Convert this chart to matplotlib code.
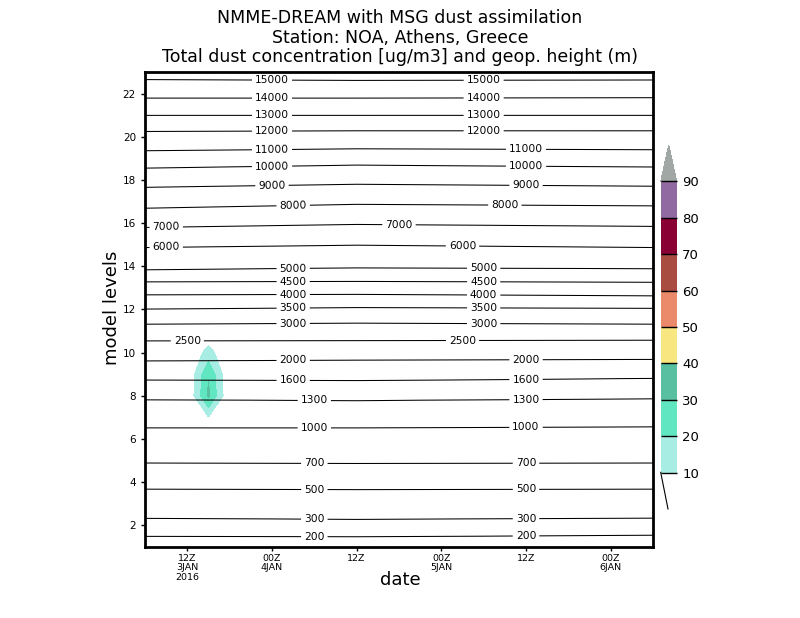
import numpy as np
import matplotlib
matplotlib.use('Agg')
import matplotlib.pyplot as plt
from matplotlib.colors import ListedColormap, BoundaryNorm
from matplotlib.lines import Line2D
import matplotlib.cm as cm

# geopotential height isolines (m) and the model level where each one sits,
# read at three times (hours after 06Z 3 Jan 2016)
hgt_values = [0, 200, 300, 500, 700, 1000, 1300, 1600, 2000, 2500, 3000, 3500,
              4000, 4500, 5000, 6000, 7000, 8000, 9000, 10000, 11000, 12000,
              13000, 14000, 15000, 16000]
anchor_hours = [0, 30, 72]
lev_start = [0.20, 1.49, 2.33, 3.68, 4.89, 6.52, 7.82, 8.74, 9.62, 10.55, 11.32,
             12.02, 12.68, 13.28, 13.84, 14.87, 15.80, 16.69, 17.66, 18.55,
             19.35, 20.25, 20.99, 21.79, 22.65, 23.45]
lev_mid = [0.20, 1.47, 2.28, 3.66, 4.87, 6.52, 7.78, 8.71, 9.66, 10.56, 11.37,
           12.09, 12.70, 13.30, 13.93, 14.98, 15.94, 16.87, 17.80, 18.69,
           19.44, 20.28, 20.99, 21.79, 22.61, 23.45]
lev_end = [0.20, 1.54, 2.34, 3.68, 4.89, 6.57, 7.87, 8.81, 9.69, 10.58, 11.32,
           12.06, 12.63, 13.26, 13.89, 14.87, 15.85, 16.80, 17.71, 18.60,
           19.40, 20.28, 20.99, 21.81, 22.63, 23.45]
contour_levels = [200, 300, 500, 700, 1000, 1300, 1600, 2000, 2500, 3000, 3500,
                  4000, 4500, 5000, 6000, 7000, 8000, 9000, 10000, 11000, 12000,
                  13000, 14000, 15000]

# total dust concentration (ug/m3), only non-zero around 15Z 3 Jan
dust_hours = [6, 9, 12]
dust_levels = [6, 7, 8, 9, 10, 11]
dust_block = [[0, 0.0, 0],
              [0, 9.5, 0],
              [0, 32.0, 0],
              [0, 29.0, 0],
              [0, 14.0, 0],
              [0, 2.0, 0]]

dust_bounds = [10, 20, 30, 40, 50, 60, 70, 80, 90]
dust_colors = ['#a8ede4', '#60e6c0', '#58bfa0', '#f8e680', '#ea8a6a',
               '#a84c42', '#880034', '#906aa0']
over_color = '#a0a7a5'

tick_hours = [6, 18, 30, 42, 54, 66]
tick_labels = ['12Z\n3JAN\n2016', '00Z\n4JAN', '12Z', '00Z\n5JAN', '12Z', '00Z\n6JAN']

# where the height labels go (height, hour)
label_spots = [(15000, 18), (14000, 18), (13000, 18), (12000, 18), (11000, 18),
               (10000, 18), (9000, 18), (8000, 21), (7000, 3), (7000, 36),
               (6000, 3), (6000, 45), (5000, 21), (4500, 21), (4000, 21),
               (3500, 21), (3000, 21), (2500, 6), (2500, 45), (2000, 21),
               (1600, 21), (1300, 24), (1000, 24), (700, 24), (500, 24),
               (300, 24), (200, 24),
               (15000, 48), (14000, 48), (13000, 48), (12000, 48), (11000, 54),
               (10000, 54), (9000, 54), (8000, 51), (5000, 48), (4500, 48),
               (4000, 48), (3500, 48), (3000, 48), (2000, 54), (1600, 54),
               (1300, 54), (1000, 54), (700, 54), (500, 54), (300, 54), (200, 54)]

# ---- build fields
hours = np.arange(0, 73, 3)
fine_lev = np.linspace(1, 23, 221)
anchors = np.array([lev_start, lev_mid, lev_end])  # (3, n)


def positions_at(h):
    return np.array([np.interp(h, anchor_hours, anchors[:, i])
                     for i in range(anchors.shape[1])])


hgt = np.zeros((fine_lev.size, hours.size))
for j, h in enumerate(hours):
    hgt[:, j] = np.interp(fine_lev, positions_at(h), hgt_values)

model_lev = np.arange(1, 24)
dust = np.zeros((model_lev.size, hours.size))
for i, lv in enumerate(dust_levels):
    for j, h in enumerate(dust_hours):
        dust[lv - 1, list(hours).index(h)] = dust_block[i][j]

# ---- figure
plt.rcParams['font.family'] = ['DejaVu Sans']
fig = plt.figure(figsize=(8, 6.18), dpi=100)
ax = fig.add_axes([0.18125, 0.1149, 0.635, 0.7686])

cmap = ListedColormap(dust_colors)
cmap.set_over(over_color)
cmap.set_under('white')
norm = BoundaryNorm(dust_bounds, cmap.N)
ax.contourf(hours, model_lev, dust, levels=dust_bounds, cmap=cmap, norm=norm,
            extend='max')

cs = ax.contour(hours, fine_lev, hgt, levels=contour_levels, colors='black',
                linewidths=0.75)
hgt_idx = {v: i for i, v in enumerate(hgt_values)}
manual = []
for v, h in label_spots:
    manual.append((h, np.interp(h, anchor_hours, anchors[:, hgt_idx[v]])))
ax.clabel(cs, fmt='%d', fontsize=7.7, manual=manual, inline=True, inline_spacing=3)

ax.set_xlim(0, 72)
ax.set_ylim(1, 23)
ax.set_xticks(tick_hours)
ax.set_xticklabels(tick_labels, fontsize=6.8, linespacing=1.05)
ax.set_yticks(range(2, 23, 2))
ax.tick_params(axis='y', labelsize=7.5, length=3, width=1)
ax.tick_params(axis='x', length=3, width=1, pad=2)
for s in ax.spines.values():
    s.set_linewidth(2)

fig.text(112 / 800, 1 - 308 / 618, 'model levels', rotation=90, ha='center',
         va='center', fontsize=13)
fig.text(0.5, 1 - 580 / 618, 'date', ha='center', va='center', fontsize=13)

fig.text(0.5, 1 - 18 / 618, 'NMME-DREAM with MSG dust assimilation', ha='center',
         va='center', fontsize=12.5)
fig.text(0.5, 1 - 38 / 618, 'Station: NOA, Athens, Greece', ha='center',
         va='center', fontsize=12.5)
fig.text(0.5, 1 - 57 / 618, 'Total dust concentration [ug/m3] and geop. height (m)',
         ha='center', va='center', fontsize=12.5)

# colorbar (extensions are drawn inside the cax, so it spans triangle to triangle)
cax = fig.add_axes([0.8259, 1 - 509 / 618, 0.02, (509 - 145) / 618])
sm = cm.ScalarMappable(norm=norm, cmap=cmap)
cb = fig.colorbar(sm, cax=cax, extend='both', extendfrac=0.125,
                  ticks=dust_bounds, drawedges=False)
cb.outline.set_visible(False)
cb.ax.tick_params(direction='in', length=11.5, width=1, labelsize=9.5, pad=4)
fig.add_artist(Line2D([660.7 / 800, 668 / 800],
                      [1 - 472.3 / 618, 1 - 509 / 618], color='black', lw=0.8))

fig.savefig('out.png', dpi=100)
